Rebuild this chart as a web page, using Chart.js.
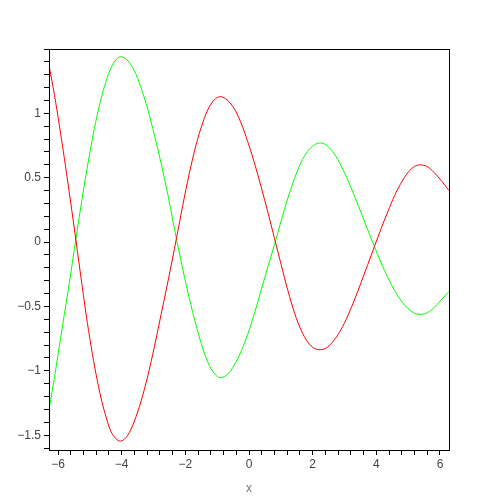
<!DOCTYPE html>
<html>
<head>
<meta charset="utf-8">
<script src="https://cdn.jsdelivr.net/npm/chart.js@4.4.1/dist/chart.umd.min.js"></script>
<style>
  html, body { margin: 0; padding: 0; background: #fff; }
  #wrap { width: 500px; height: 500px; }
</style>
</head>
<body>
<div id="wrap"><canvas id="plot" width="500" height="500"></canvas></div>
<script>
// values
const redX = [-6.28, -6.11, -5.96, -5.80, -5.64, -5.49, -5.28, -5.12, -4.96, -4.81, -4.65, -4.49, -4.34, -4.12, -4.04,
    -3.81, -3.60, -3.39, -3.18, -2.97, -2.76, -2.55, -2.34, -2.14, -1.93, -1.72, -1.51, -1.30, -1.09, -0.90,
    -0.67, -0.46, -0.25, -0.04, 0.17, 0.38, 0.59, 0.80, 1.01, 1.22, 1.43, 1.63, 1.84, 2.05, 2.24,
    2.47, 2.68, 2.89, 3.10, 3.31, 3.52, 3.73, 3.94, 4.15, 4.36, 4.57, 4.78, 4.99, 5.20, 5.37,
    5.61, 5.82, 6.03, 6.28];
const redY = [1.37, 1.14, 0.91, 0.65, 0.375, 0.11, -0.272, -0.557, -0.81, -1.02, -1.21, -1.36, -1.47, -1.54, -1.546,
    -1.50, -1.39, -1.235, -1.04, -0.81, -0.56, -0.31, -0.05, 0.21, 0.47, 0.70, 0.885, 1.025, 1.105, 1.13,
    1.10, 1.035, 0.925, 0.78, 0.615, 0.43, 0.235, 0.03, -0.175, -0.375, -0.55, -0.68, -0.775, -0.825, -0.836,
    -0.815, -0.76, -0.68, -0.575, -0.45, -0.315, -0.175, -0.035, 0.105, 0.235, 0.36, 0.46, 0.54, 0.588, 0.60,
    0.585, 0.54, 0.48, 0.40];

const greenX = [-6.27, -6.11, -5.96, -5.80, -5.64, -5.49, -5.33, -5.17, -5.01, -4.86, -4.70, -4.54, -4.39, -4.23, -4.04,
    -3.81, -3.60, -3.39, -3.18, -2.97, -2.76, -2.55, -2.34, -2.14, -1.93, -1.72, -1.51, -1.30, -1.09, -0.90,
    -0.67, -0.46, -0.25, -0.04, 0.17, 0.38, 0.59, 0.80, 1.01, 1.22, 1.43, 1.63, 1.84, 2.05, 2.26,
    2.47, 2.68, 2.89, 3.10, 3.31, 3.52, 3.73, 3.94, 4.15, 4.36, 4.57, 4.78, 4.99, 5.20, 5.35,
    5.51, 5.72, 5.98, 6.28];
const greenY = [-1.28, -1.05, -0.81, -0.56, -0.31, -0.06, 0.20, 0.45, 0.68, 0.88, 1.06, 1.21, 1.32, 1.40, 1.44,
    1.41, 1.33, 1.20, 1.03, 0.83, 0.61, 0.37, 0.10, -0.14, -0.38, -0.59, -0.78, -0.93, -1.02, -1.054,
    -1.025, -0.955, -0.85, -0.715, -0.555, -0.375, -0.195, -0.02, 0.165, 0.34, 0.495, 0.615, 0.705, 0.755, 0.77,
    0.745, 0.685, 0.595, 0.485, 0.36, 0.23, 0.095, -0.035, -0.16, -0.275, -0.375, -0.455, -0.515, -0.552, -0.562,
    -0.558, -0.53, -0.465, -0.385];

const xRange = [-2 * Math.PI, 2 * Math.PI];
const yRange = [-1.615, 1.5];
const xStep = 0.4;   // minor ticks, labels every 2
const yStep = 0.1;   // minor ticks, labels every 0.5

function toPoints(xs, ys) {
    return xs.map((x, i) => ({ x: x, y: ys[i] }));
}

function isMultiple(v, m) {
    return Math.abs(v / m - Math.round(v / m)) < 1e-6;
}

function fmt(v) {
    const r = Math.round(v * 10) / 10;
    return String(r).replace('-', '\u2212');
}

// box around the plot area
const frame = {
    id: 'frame',
    afterDraw(chart) {
        const a = chart.chartArea;
        const ctx = chart.ctx;
        ctx.save();
        ctx.strokeStyle = '#000';
        ctx.lineWidth = 1;
        ctx.strokeRect(Math.round(a.left) + 0.5, Math.round(a.top) + 0.5,
            Math.round(a.right - a.left), Math.round(a.bottom - a.top));
        ctx.restore();
    }
};

const tickFont = { family: 'Liberation Sans', size: 12 };

new Chart(document.getElementById('plot'), {
    type: 'scatter',
    data: {
        datasets: [
            {
                data: toPoints(redX, redY),
                showLine: true,
                borderColor: '#ff0000',
                borderWidth: 1,
                pointRadius: 0,
                cubicInterpolationMode: 'monotone'
            },
            {
                data: toPoints(greenX, greenY),
                showLine: true,
                borderColor: '#00ff00',
                borderWidth: 1,
                pointRadius: 0,
                cubicInterpolationMode: 'monotone'
            }
        ]
    },
    options: {
        responsive: false,
        animation: false,
        layout: { padding: { top: 49, right: 51, left: 0, bottom: 0 } },
        plugins: {
            legend: { display: false },
            tooltip: { enabled: false }
        },
        scales: {
            x: {
                type: 'linear',
                min: xRange[0],
                max: xRange[1],
                afterFit: (scale) => { scale.height = 50; },
                ticks: {
                    stepSize: xStep,
                    autoSkip: false,
                    includeBounds: false,
                    maxRotation: 0,
                    padding: 2,
                    color: '#444',
                    font: tickFont,
                    callback: (v) => isMultiple(v, 2) ? fmt(v) : ''
                },
                grid: {
                    drawOnChartArea: false,
                    drawTicks: true,
                    tickLength: 5,
                    color: '#000'
                },
                border: { display: true, color: '#000' },
                title: {
                    display: true,
                    text: 'x',
                    color: '#777',
                    font: { family: 'Liberation Sans', size: 12 }
                }
            },
            y: {
                type: 'linear',
                min: yRange[0],
                max: yRange[1],
                afterFit: (scale) => { scale.width = 49; },
                ticks: {
                    stepSize: yStep,
                    autoSkip: false,
                    includeBounds: false,
                    padding: 3,
                    color: '#444',
                    font: tickFont,
                    // the 1.5 tick sits on the frame and has no label
                    callback: (v) => (isMultiple(v, 0.5) && v < 1.45) ? fmt(v) : ''
                },
                grid: {
                    drawOnChartArea: false,
                    drawTicks: true,
                    tickLength: 5,
                    color: '#000'
                },
                border: { display: true, color: '#000' }
            }
        }
    },
    plugins: [frame]
});
</script>
</body>
</html>
